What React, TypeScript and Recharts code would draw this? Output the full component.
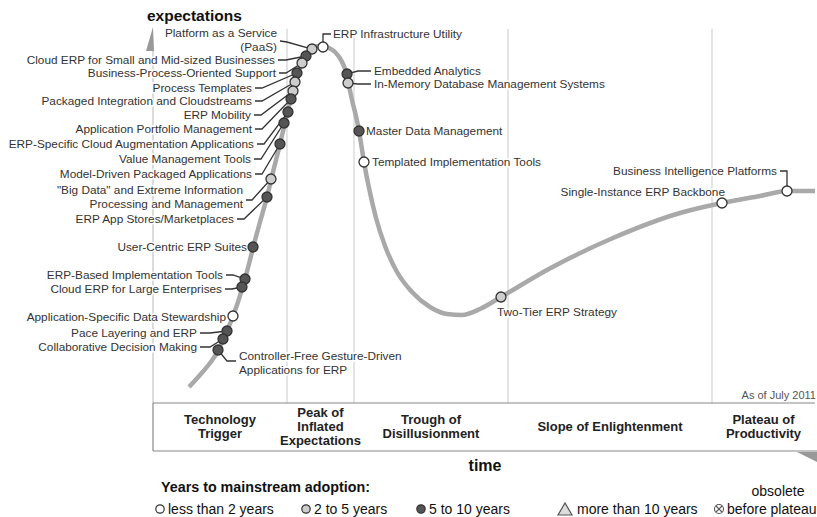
import { ComposedChart, Line, Scatter, XAxis, YAxis, ReferenceLine } from 'recharts';

const FONT = '"Liberation Sans", Arial, Helvetica, sans-serif';
const INK = '#333';

// hype curve: time (0-100) vs expectations (0-100)
const curveTime = [
  5.44, 7.1, 8.61, 9.82, 10.57, 11.18, 12.08, 12.84, 13.44, 13.9, 14.5, 15.11, 16.16, 17.22, 18.13,
  19.18, 19.94, 20.54, 21.15, 21.75, 22.51, 23.11, 24.02, 24.92, 25.68, 26.59, 27.49, 28.4, 29.0,
  29.46, 30.06, 30.66, 31.12, 31.87, 32.63, 33.69, 35.05, 36.86, 39.12, 41.84, 44.41, 46.68, 49.4,
  52.57, 59.52, 69.49, 79.61, 85.95, 91.69, 95.77, 100,
];
const curveExp = [
  4.23, 7.41, 10.58, 13.76, 16.67, 19.05, 23.02, 26.72, 30.16, 32.8, 36.77, 41.01, 47.88, 54.5, 61.11,
  68.52, 74.07, 78.57, 82.54, 86.77, 89.95, 91.8, 93.65, 94.44, 94.44, 93.92, 92.86, 90.74, 88.36,
  85.19, 80.16, 75.93, 71.96, 63.76, 56.88, 48.94, 41.53, 34.66, 29.37, 25.4, 23.54, 23.28, 24.87,
  28.04, 35.19, 43.65, 50.26, 52.91, 54.76, 56.08, 56.08,
];

const techNames = [
  'Platform as a Service\n(PaaS)',
  'Cloud ERP for Small and Mid-sized Businesses',
  'Business-Process-Oriented Support',
  'Process Templates',
  'Packaged Integration and Cloudstreams',
  'ERP Mobility',
  'Application Portfolio Management',
  'ERP-Specific Cloud Augmentation Applications',
  'Value Management Tools',
  'Model-Driven Packaged Applications',
  '"Big Data" and Extreme Information\nProcessing and Management',
  'ERP App Stores/Marketplaces',
  'User-Centric ERP Suites',
  'ERP-Based Implementation Tools',
  'Cloud ERP for Large Enterprises',
  'Application-Specific Data Stewardship',
  'Pace Layering and ERP',
  'Collaborative Decision Making',
  'Controller-Free Gesture-Driven\nApplications for ERP',
  'ERP Infrastructure Utility',
  'Embedded Analytics',
  'In-Memory Database Management Systems',
  'Master Data Management',
  'Templated Implementation Tools',
  'Two-Tier ERP Strategy',
  'Single-Instance ERP Backbone',
  'Business Intelligence Platforms',
];
const techTime = [
  24.02, 23.11, 22.51, 21.75, 21.45, 21.15, 20.85, 20.39, 19.79, 19.18, 17.82, 17.22, 15.11, 13.9,
  13.44, 12.08, 11.18, 10.57, 9.82, 25.68, 29.31, 29.46, 31.12, 31.87, 52.57, 85.95, 95.77,
];
const techExp = [
  93.65, 91.8, 89.95, 87.3, 84.92, 82.54, 80.42, 76.98, 74.07, 68.52, 59.26, 54.5, 41.27, 32.8,
  30.69, 23.02, 19.05, 16.93, 14.02, 94.18, 87.04, 84.66, 71.96, 63.76, 28.04, 52.91, 56.08,
];
const techYears = [
  '2to5', '5to10', '2to5', '5to10', '2to5', '2to5', '5to10', '5to10', '5to10', '5to10', '2to5',
  '5to10', '5to10', '5to10', '5to10', 'lt2', '5to10', '5to10', '5to10', 'lt2', '5to10', '2to5',
  '5to10', 'lt2', '2to5', 'lt2', 'lt2',
];

const phaseNames = [
  'Technology\nTrigger',
  'Peak of\nInflated\nExpectations',
  'Trough of\nDisillusionment',
  'Slope of Enlightenment',
  'Plateau of\nProductivity',
];
const phaseEdges = [0, 20.24, 30.36, 53.63, 84.44, 100];

const legendKeys = ['lt2', '2to5', '5to10', 'gt10', 'obs'];
const legendLabels = ['less than 2 years', '2 to 5 years', '5 to 10 years', 'more than 10 years', 'before plateau'];

const curve = curveTime.map((t, i) => ({ t, e: curveExp[i] }));
const techs = techNames.map((name, i) => ({ t: techTime[i], e: techExp[i], name, years: techYears[i], i }));
const phaseCenters = phaseNames.map((_, i) => (phaseEdges[i] + phaseEdges[i + 1]) / 2);

const fills: Record<string, string> = { lt2: '#ffffff', '2to5': '#cdcdcd', '5to10': '#555555' };

// label placement (pixels), same order as techNames
type Spot = { anchor: 'start' | 'end'; x: number; y: number; lead?: number[][]; elbow?: number[] };
const labelSpots: Spot[] = [
  { anchor: 'end', x: 277, y: 33, lead: [[280, 41], [287, 42]] },
  { anchor: 'end', x: 275, y: 60, lead: [[278, 60], [286, 60]] },
  { anchor: 'end', x: 276, y: 73, lead: [[279, 73], [286, 73]] },
  { anchor: 'end', x: 252, y: 88, lead: [[255, 88], [262, 88]] },
  { anchor: 'end', x: 252, y: 101, lead: [[255, 101], [262, 101]] },
  { anchor: 'end', x: 251, y: 115, lead: [[254, 115], [261, 115]] },
  { anchor: 'end', x: 252, y: 129, lead: [[255, 129], [262, 129]] },
  { anchor: 'end', x: 254, y: 144, lead: [[257, 144], [264, 144]] },
  { anchor: 'end', x: 251, y: 159, lead: [[254, 159], [261, 159]] },
  { anchor: 'end', x: 252, y: 174, lead: [[255, 174], [262, 174]] },
  { anchor: 'end', x: 243, y: 190, lead: [[246, 200], [252, 200]] },
  { anchor: 'end', x: 234, y: 219, lead: [[237, 219], [244, 219]] },
  { anchor: 'end', x: 247, y: 247 },
  { anchor: 'end', x: 223, y: 275, lead: [[226, 275], [233, 275]] },
  { anchor: 'end', x: 222, y: 289, lead: [[225, 289], [232, 289]] },
  { anchor: 'end', x: 226, y: 317 },
  { anchor: 'end', x: 197, y: 333, lead: [[200, 333], [210, 333]] },
  { anchor: 'end', x: 197, y: 347, lead: [[200, 347], [210, 347]] },
  { anchor: 'start', x: 239, y: 356, lead: [[236, 361], [227, 361]] },
  { anchor: 'start', x: 333, y: 34, elbow: [331, 34] },
  { anchor: 'start', x: 374, y: 71, lead: [[371, 71], [358, 71]] },
  { anchor: 'start', x: 374, y: 84, lead: [[371, 84], [358, 84]] },
  { anchor: 'start', x: 366, y: 131 },
  { anchor: 'start', x: 372, y: 162 },
  { anchor: 'start', x: 497, y: 312 },
  { anchor: 'end', x: 725, y: 192 },
  { anchor: 'end', x: 777, y: 171, elbow: [780, 171] },
];

const legendX = [160, 306, 421, 565, 719];

function LabelShape(p: any) {
  const { cx, cy, payload } = p;
  const spot = labelSpots[payload.i];
  const lines: string[] = payload.name.split('\n');
  let pts: number[][] | null = null;
  if (spot.lead) pts = [...spot.lead, [cx, cy]];
  if (spot.elbow) pts = [spot.elbow, [cx, spot.elbow[1]], [cx, cy]];
  return (
    <g>
      {pts && (
        <polyline points={pts.map((q) => q.join(',')).join(' ')} fill="none" stroke={INK} strokeWidth={1.3} />
      )}
      <text
        textAnchor={spot.anchor}
        fontSize={11.8}
        fontFamily={FONT}
        fill={INK}
        stroke="#fff"
        strokeWidth={3}
        style={{ paintOrder: 'stroke' }}
      >
        {lines.map((l, k) => (
          <tspan key={k} x={spot.x} y={spot.y + 4.2 + k * 14}>
            {l}
          </tspan>
        ))}
      </text>
    </g>
  );
}

function DotShape(p: any) {
  return <circle cx={p.cx} cy={p.cy} r={5} fill={fills[p.payload.years]} stroke={INK} strokeWidth={1.3} />;
}

function PhaseTick(p: any) {
  const idx = phaseCenters.findIndex((c) => Math.abs(c - p.payload.value) < 0.01);
  const lines = phaseNames[idx].split('\n');
  const mid = p.y + 23;
  return (
    <text textAnchor="middle" fontSize={13} fontWeight="bold" fontFamily={FONT} fill="#222">
      {lines.map((l, k) => (
        <tspan key={k} x={p.x} y={mid + 4.6 + (k - (lines.length - 1) / 2) * 14}>
          {l}
        </tspan>
      ))}
    </text>
  );
}

function LegendGlyph({ kind, x }: { kind: string; x: number }) {
  const y = 509;
  if (kind === 'gt10') {
    return <polygon points={`${x - 7},${y + 6} ${x + 7},${y + 6} ${x},${y - 6}`} fill="#ddd" stroke="#555" strokeWidth={1.2} />;
  }
  if (kind === 'obs') {
    return (
      <g stroke="#555" strokeWidth={1.1} fill="#fff">
        <circle cx={x} cy={y} r={4.5} />
        <line x1={x - 3} y1={y - 3} x2={x + 3} y2={y + 3} />
        <line x1={x - 3} y1={y + 3} x2={x + 3} y2={y - 3} />
      </g>
    );
  }
  return <circle cx={x} cy={y} r={4.2} fill={fills[kind]} stroke={INK} strokeWidth={1.2} />;
}

export default function App() {
  return (
    <div style={{ position: 'absolute', left: 0, top: 0, width: 817, height: 517, background: '#fff', fontFamily: FONT }}>
      <svg width={817} height={517} style={{ position: 'absolute', left: 0, top: 0 }}>
        <line x1={153} y1={50} x2={153} y2={403} stroke="#c4c4c4" strokeWidth={1.2} />
        <polygon points="153,27 154,51 146,51" fill="#999" />
        <line x1={153} y1={451} x2={817} y2={451} stroke="#888" strokeWidth={1.2} />
        <line x1={153} y1={403} x2={153} y2={451} stroke="#888" strokeWidth={1.2} />
        <polygon points="797,452 817,452 817,462" fill="#999" />
        <text x={147} y={21} fontSize={15.5} fontWeight="bold" fill="#111">expectations</text>
        <text x={485} y={471} fontSize={16} fontWeight="bold" fill="#111" textAnchor="middle">time</text>
        <text x={816} y={399} fontSize={11} fill="#555" textAnchor="end">As of July 2011</text>
        <text x={161} y={492} fontSize={14.3} fontWeight="bold" fill="#111">Years to mainstream adoption:</text>
        <text x={778} y={496} fontSize={14} fill="#111" textAnchor="middle">obsolete</text>
        {legendKeys.map((k, i) => (
          <g key={k}>
            <LegendGlyph kind={k} x={legendX[i]} />
            <text x={legendX[i] + (k === 'gt10' ? 12 : 8)} y={514} fontSize={14} fill="#111">
              {legendLabels[i]}
            </text>
          </g>
        ))}
      </svg>
      <div style={{ position: 'absolute', left: 0, top: 0 }}>
        <ComposedChart width={817} height={517} margin={{ top: 25, right: 2, bottom: 66, left: 153 }}>
          <XAxis
            dataKey="t"
            type="number"
            domain={[0, 100]}
            ticks={phaseCenters}
            interval={0}
            tickSize={0}
            tickMargin={0}
            tickLine={false}
            height={48}
            axisLine={{ stroke: '#888', strokeWidth: 1.2 }}
            tick={(p: any) => <PhaseTick {...p} />}
          />
          <YAxis dataKey="e" type="number" domain={[0, 100]} hide />
          {phaseEdges.slice(1, 5).map((b) => (
            <ReferenceLine key={b} segment={[{ x: b, y: 0 }, { x: b, y: 99 }]} stroke="#dcdcdc" strokeWidth={1.5} />
          ))}
          <Line
            data={curve}
            dataKey="e"
            type="monotone"
            stroke="#a9a9a9"
            strokeWidth={4.5}
            dot={false}
            isAnimationActive={false}
          />
          <Scatter data={techs} shape={LabelShape} isAnimationActive={false} />
          <Scatter data={techs} shape={DotShape} isAnimationActive={false} />
        </ComposedChart>
      </div>
    </div>
  );
}
